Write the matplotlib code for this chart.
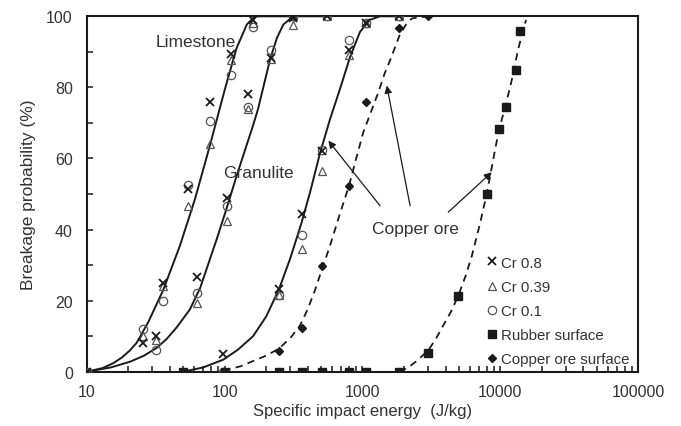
import numpy as np
import matplotlib
matplotlib.use("Agg")
import matplotlib.pyplot as plt
from matplotlib.lines import Line2D

plt.rcParams['font.family'] = ['Liberation Sans', 'DejaVu Sans']

# ---- measured points (E in J/kg, breakage probability in %) ----
lime_e = [10, 25.6, 35.9, 54.6, 78.3, 112, 161, 312]
lime_cr08 = [0, 8, 25, 51.5, 76, 89.3, 99, 100]
lime_cr039 = [0, 10, 24, 46.7, 64, 87.7, 98, 100]
lime_cr01 = [0, 12, 20, 52.5, 70.4, 83.4, 97, 100]

gran_e = [31.8, 63.4, 103.5, 149, 216, 312, 556]
gran_cr08 = [10, 26.7, 49, 78, 88.3, 99.4, 100]
gran_cr039 = [9, 19.4, 42.5, 74, 88, 97.5, 100]
gran_cr01 = [6, 22, 46.7, 74.5, 90.5, 100, 100]

cu_e = [98, 250, 366, 512, 800, 1060, 1850]
cu_cr08 = [5, 23.4, 44.4, 62.2, 90.5, 98, 100]
cu_cr039 = [0, 21.5, 34.5, 56.6, 89, 98, 100]
cu_cr01 = [0, 21.5, 38.4, 62.5, 93.3, 98, 100]

rub_e = [50, 100, 250, 366, 512, 800, 1060, 1850, 3000, 4960, 7960,
         9820, 11000, 13000, 13900]
rub_p = [0, 0, 0, 0, 0, 0, 0, 0, 5.3, 21.3, 50, 68.4, 74.5, 85, 96]

cus_e = [250, 366, 512, 800, 1060, 1850, 3000]
cus_p = [5.7, 12.3, 29.8, 52.3, 76, 96.8, 100]

# ---- fitted curves ----
lime_fit_e = [10, 13, 15.6, 18, 20.6, 23, 28, 35.9, 47.5, 61, 78.3, 100.7, 122, 145, 166, 320]
lime_fit_p = [0, 1.0, 2.4, 4.0, 6.0, 8.1, 14, 23, 35.5, 48.6, 63.7, 79.6, 91, 97.7, 100, 100]

gran_fit_e = [10, 15, 20.6, 26, 32.2, 38, 45, 56, 66.4, 87.7, 103.5, 122, 141,
              160, 175, 195, 214, 240, 267, 315, 560]
gran_fit_p = [0, 1.2, 2.8, 4.5, 6.7, 9.2, 12.5, 17.5, 23.5, 37.3, 46, 55, 62.5,
              69, 74, 81.5, 88, 94, 97.7, 100, 100]

cu_fit_e = [50, 70, 98, 125, 161, 200, 247, 300, 362, 420, 492, 581, 706, 811,
            959, 1132, 1340, 1850]
cu_fit_p = [0, 1.2, 3.4, 6.2, 10, 15.5, 23, 32, 42, 51, 61.5, 71, 81, 88.5,
            95.6, 99, 100, 100]

cus_fit_e = [98, 130, 161, 200, 248, 300, 352, 400, 453, 510, 581, 680, 798,
             900, 1014, 1150, 1300, 1450, 1600, 1850, 2050, 2280, 3000]
cus_fit_p = [0.3, 1.5, 3, 4.5, 6.5, 9.5, 13, 17.5, 23, 29, 35.4, 44, 52.3,
             60, 67.4, 73, 78.5, 84, 88, 94.5, 97.5, 99.4, 100]

rub_fit_e = [1850, 2150, 2470, 3000, 3400, 3850, 4400, 4960, 5600, 6200, 7100,
             7960, 8420, 9100, 9820, 11000, 12080, 13500, 15350]
rub_fit_p = [0, 1.2, 3, 6, 9.2, 13, 17, 21.5, 27, 32.5, 41.5, 50, 55,
             62, 68.4, 75.5, 82, 91, 99]

ink = '#1a1a1a'
grey = '#555555'
txt = '#333333'

fig = plt.figure(figsize=(6.81, 4.27), dpi=100)
ax = fig.add_axes([0.1273, 0.1272, 0.81, 0.8323])

# curves
for e, p in [(lime_fit_e, lime_fit_p), (gran_fit_e, gran_fit_p), (cu_fit_e, cu_fit_p)]:
    ax.plot(e, p, color=ink, lw=1.4, zorder=2)
for e, p in [(cus_fit_e, cus_fit_p), (rub_fit_e, rub_fit_p)]:
    ax.plot(e, p, color=ink, lw=1.3, ls=(0, (4, 3)), zorder=2)

# points
x_kw = dict(ls='none', marker='x', ms=6, mew=1.3, color=ink, zorder=4)
t_kw = dict(ls='none', marker='^', ms=6, mew=0.9, mfc='none', mec=grey, zorder=3)
o_kw = dict(ls='none', marker='o', ms=6, mew=0.9, mfc='none', mec=grey, zorder=3)
for e, a, b, c in [(lime_e, lime_cr08, lime_cr039, lime_cr01),
                   (gran_e, gran_cr08, gran_cr039, gran_cr01),
                   (cu_e, cu_cr08, cu_cr039, cu_cr01)]:
    ax.plot(e, a, **x_kw)
    ax.plot(e, b, **t_kw)
    ax.plot(e, c, **o_kw)
ax.plot(rub_e, rub_p, ls='none', marker='s', ms=6, color=ink, zorder=5)
ax.plot(cus_e, cus_p, ls='none', marker='D', ms=4.5, color=ink, zorder=5)

ax.set_xscale('log')
ax.set_xlim(10, 100000)
ax.set_ylim(0, 100)
ax.set_yticks(range(0, 101, 20))
ax.set_yticks(range(10, 100, 20), minor=True)
ax.set_xticks([10, 100, 1000, 10000, 100000])
ax.set_xticklabels(['10', '100', '1000', '10000', '100000'])
ax.tick_params(which='both', direction='in', length=4, width=1.1, colors=ink,
               labelsize=11.5, labelcolor=txt)
ax.tick_params(axis='x', pad=9)
ax.tick_params(axis='y', pad=10)
for s in ax.spines.values():
    s.set_linewidth(1.5)
    s.set_color(ink)

ax.set_xlabel('Specific impact energy  (J/kg)', fontsize=12, color=txt, labelpad=3)
ax.set_ylabel('Breakage probability (%)', fontsize=12.5, color=txt, labelpad=7)

# labels and arrows
ax.text(62, 93.0, 'Limestone', ha='center', va='center', fontsize=12.5, color=txt)
ax.text(175, 56.0, 'Granulite', ha='center', va='center', fontsize=12.5, color=txt)
ax.text(2440, 40.3, 'Copper ore', ha='center', va='center', fontsize=12.5, color=txt)
arrow = dict(arrowstyle='-|>', color=ink, lw=0.9, mutation_scale=11, shrinkA=0, shrinkB=0)
ax.annotate('', xy=(565, 65), xytext=(1340, 46.7), arrowprops=arrow)
ax.annotate('', xy=(1500, 80.5), xytext=(2214, 46.7), arrowprops=arrow)
ax.annotate('', xy=(8650, 56.1), xytext=(4190, 44.9), arrowprops=arrow)

handles = [
    Line2D([], [], **x_kw),
    Line2D([], [], **t_kw),
    Line2D([], [], **o_kw),
    Line2D([], [], ls='none', marker='s', ms=6, color=ink),
    Line2D([], [], ls='none', marker='D', ms=4.5, color=ink),
]
labels = ['Cr 0.8', 'Cr 0.39', 'Cr 0.1', 'Rubber surface', 'Copper ore surface']
ax.legend(handles, labels, loc='lower left', bbox_to_anchor=(0.715, -0.002),
          frameon=False, fontsize=10.8, handlelength=0.6, handletextpad=0.35,
          labelspacing=0.68, borderaxespad=0.0, borderpad=0.4, labelcolor=txt)

fig.savefig('out.png', dpi=100)
